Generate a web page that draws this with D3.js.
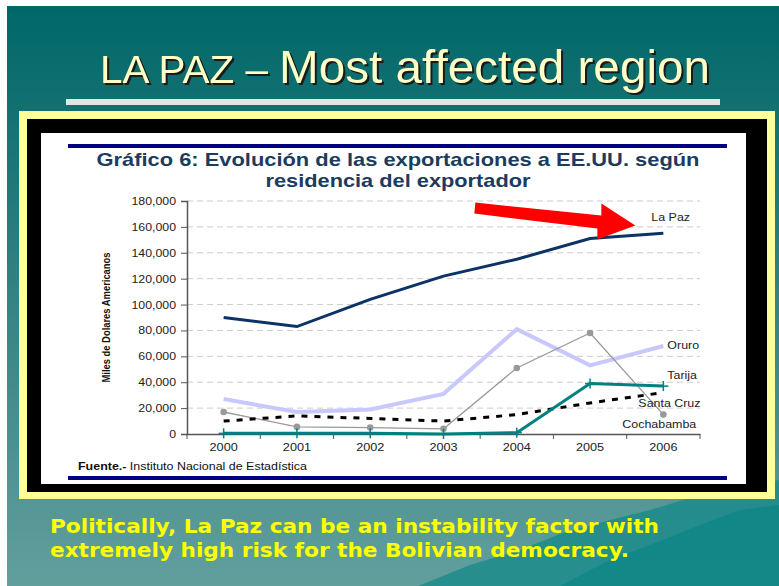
<!DOCTYPE html>
<html><head><meta charset="utf-8">
<script src="https://cdn.jsdelivr.net/npm/d3@7/dist/d3.min.js"></script>
<style>html,body{margin:0;padding:0;background:#fff;}svg{display:block;}</style>
</head><body>
<svg id="c" width="779" height="586"></svg>
<script>
const years = ["2000","2001","2002","2003","2004","2005","2006"];
const laPaz = [90000, 83000, 104000, 122000, 135000, 151000, 155000];
const oruro = [27000, 17000, 19000, 31000, 81000, 53000, 68000];
const cochabamba = [17000, 5500, 5000, 4000, 51000, 78000, 15000];
const santaCruz = [10000, 14000, 12000, 10000, 15000, 24000, 32000];
const tarija = [500, 600, 500, 0, 1000, 39000, 37000];
const yTicks = [0,20000,40000,60000,80000,100000,120000,140000,160000,180000];
const seriesNames = ["La Paz","Oruro","Tarija","Santa Cruz","Cochabamba"];

const FONT = "Liberation Sans, Arial, sans-serif";
const svg = d3.select("#c");
function stretch(sel, k){
  sel.each(function(){ const w=this.getComputedTextLength(); d3.select(this).attr("textLength",w*k).attr("lengthAdjust","spacingAndGlyphs"); });
}
// background
const defs = svg.append("defs");
const g = defs.append("linearGradient").attr("id","bg").attr("x1",0).attr("y1",0).attr("x2",0).attr("y2",1);
g.append("stop").attr("offset","0%").attr("stop-color","#006768");
g.append("stop").attr("offset","55%").attr("stop-color","#3a8585");
g.append("stop").attr("offset","100%").attr("stop-color","#619f9d");
svg.append("rect").attr("x",7).attr("y",6).attr("width",772).attr("height",580).attr("fill","url(#bg)");
// mountain decoration bottom right
svg.append("path").attr("d","M418,586 L470,565 L520,550 L560,534 L610,520 L650,510 L690,498 L779,480 L779,586 Z").attr("fill","#108888").attr("opacity",0.7);
svg.append("path").attr("d","M560,586 L610,560 L650,545 L700,525 L740,510 L779,505 L779,586 Z").attr("fill","#058383").attr("opacity",0.6);

// slide title
const shadow = "drop-shadow(2px 2px 0px #1a1a1a)";
svg.append("text").attr("x",100).attr("y",83).attr("font-family",FONT).attr("fill","#ffffc8").attr("font-size",38)
  .attr("textLength",168).attr("lengthAdjust","spacingAndGlyphs").style("filter",shadow).text("LA PAZ –");
svg.append("text").attr("x",279).attr("y",83).attr("font-family",FONT).attr("fill","#ffffc8").attr("font-size",47)
  .attr("textLength",431).attr("lengthAdjust","spacingAndGlyphs").style("filter",shadow).text("Most affected region");
svg.append("rect").attr("x",66).attr("y",99).attr("width",654).attr("height",6).attr("fill","#e4e4e4");

// frame
svg.append("rect").attr("x",19).attr("y",111).attr("width",756).attr("height",388).attr("fill","#ffff99");
svg.append("rect").attr("x",27).attr("y",119).attr("width",740).attr("height",373).attr("fill","#000");
svg.append("rect").attr("x",41).attr("y",133).attr("width",705).attr("height",351).attr("fill","#fff");

// chart header/footer rules
svg.append("rect").attr("x",68).attr("y",144).attr("width",659).attr("height",4).attr("fill","#000080");
svg.append("rect").attr("x",68).attr("y",476).attr("width",659).attr("height",4).attr("fill","#000080");

const ctg = svg.append("g").attr("font-family",FONT).attr("font-weight","bold").attr("font-size",19).attr("fill","#1d3b5e").attr("text-anchor","middle");
ctg.append("text").attr("x",398).attr("y",166).attr("textLength",603).attr("lengthAdjust","spacingAndGlyphs")
  .text("Gráfico 6: Evolución de las exportaciones a EE.UU. según");
ctg.append("text").attr("x",398).attr("y",187).attr("textLength",265).attr("lengthAdjust","spacingAndGlyphs")
  .text("residencia del exportador");

// scales
const x = d3.scaleBand().domain(years).range([187,700]);
const xc = d => x(d) + x.bandwidth()/2;
const y = d3.scaleLinear().domain([0,180000]).range([434,201]);

// grid
svg.append("g").selectAll("line").data(yTicks.filter(v=>v>0)).join("line")
  .attr("x1",187).attr("x2",700).attr("y1",d=>y(d)).attr("y2",d=>y(d))
  .attr("stroke","#cccccc").attr("stroke-dasharray","6,4");

// y axis
const ya = svg.append("g").attr("transform","translate(187,0)")
  .call(d3.axisLeft(y).tickValues(yTicks).tickFormat(d3.format(",")).tickSize(6).tickPadding(5));
ya.select(".domain").attr("stroke","#555").attr("stroke-width",1.5);
ya.selectAll(".tick line").attr("stroke","#555");
ya.selectAll("text").attr("font-family",FONT).attr("font-size",11).attr("fill","#222");
stretch(ya.selectAll("text"),1.12);

// x axis
const xa = svg.append("g").attr("transform","translate(0,434)")
  .call(d3.axisBottom(x).tickSize(0).tickPadding(9));
xa.select(".domain").attr("stroke","#555").attr("stroke-width",1.5);
xa.selectAll("text").attr("font-family",FONT).attr("font-size",11).attr("fill","#222");
stretch(xa.selectAll("text"),1.15);
xa.selectAll(".bound").data(years.map(d=>x(d)).concat([x.range()[1]])).join("line")
  .attr("x1",d=>d).attr("x2",d=>d).attr("y1",0).attr("y2",5).attr("stroke","#555");

// axis title
svg.append("text").attr("transform",`translate(110,${(y(0)+y(180000))/2}) rotate(-90)`).attr("text-anchor","middle")
  .attr("font-family",FONT).attr("font-weight","bold").attr("font-size",10)
  .attr("textLength",130).attr("lengthAdjust","spacingAndGlyphs").attr("fill","#111").text("Miles de Dolares Americanos");

const line = d3.line().x((d,i)=>xc(years[i])).y(d=>y(d));
// Oruro
svg.append("path").attr("d",line(oruro)).attr("fill","none").attr("stroke","#c8c8ff").attr("stroke-width",4);
// Cochabamba
svg.append("path").attr("d",line(cochabamba)).attr("fill","none").attr("stroke","#999").attr("stroke-width",1.3);
svg.append("g").selectAll("circle").data(cochabamba).join("circle")
  .attr("cx",(d,i)=>xc(years[i])).attr("cy",d=>y(d)).attr("r",3.3).attr("fill","#999");
// Santa Cruz
svg.append("path").attr("d",line(santaCruz)).attr("fill","none").attr("stroke","#000").attr("stroke-width",3).attr("stroke-dasharray","6,7");
// Tarija
svg.append("path").attr("d",line(tarija)).attr("fill","none").attr("stroke","#008080").attr("stroke-width",3);
const tm = svg.append("g").selectAll("g").data(tarija).join("g")
  .attr("transform",(d,i)=>`translate(${xc(years[i])},${y(d)})`);
tm.append("line").attr("x1",0).attr("x2",0).attr("y1",-5).attr("y2",5).attr("stroke","#008080").attr("stroke-width",1.5);
tm.append("line").attr("x1",-5).attr("x2",5).attr("y1",0).attr("y2",0).attr("stroke","#008080").attr("stroke-width",1.5);
// La Paz
svg.append("path").attr("d",line(laPaz)).attr("fill","none").attr("stroke","#0b3366").attr("stroke-width",3);

// series labels
const last = years.length-1;
const labelSpec = [
  {name:seriesNames[0], v:laPaz[last], dx:-12, dy:-16},
  {name:seriesNames[1], v:oruro[last], dx:4, dy:-1},
  {name:seriesNames[2], v:tarija[last], dx:4, dy:-11},
  {name:seriesNames[3], v:santaCruz[last], dx:-25, dy:10},
  {name:seriesNames[4], v:cochabamba[last], dx:-41, dy:9}
];
const lbl = svg.append("g").selectAll("text").data(labelSpec).join("text")
  .attr("x",d=>xc(years[last])+d.dx).attr("y",d=>y(d.v)+d.dy).attr("dy","0.35em")
  .attr("font-family",FONT).attr("font-size",11.5).attr("fill","#222").text(d=>d.name);
stretch(lbl,1.08);

// red arrow annotation pointing at La Paz label
const tipX = xc(years[last]) - 28, tipY = y(161000);
const arrow = [[0,0],[-34,-22],[-34,-10],[-160,-23],[-161,-12],[-38,3],[-38,14]];
svg.append("polygon").attr("points",arrow.map(p=>[tipX+p[0],tipY+p[1]].join(",")).join(" ")).attr("fill","#ff0000");

// source
const src = svg.append("text").attr("x",78).attr("y",470).attr("font-family",FONT).attr("font-size",11).attr("fill","#111")
  .attr("textLength",229).attr("lengthAdjust","spacingAndGlyphs");
src.append("tspan").attr("font-weight","bold").text("Fuente.-");
src.append("tspan").text(" Instituto Nacional de Estadística");

// bottom statement
const bt = svg.append("g").attr("font-family","DejaVu Sans, Verdana, sans-serif").attr("font-weight","bold").attr("font-size",19).attr("fill","#ffff00");
bt.append("text").attr("x",50).attr("y",533).attr("textLength",609).attr("lengthAdjust","spacingAndGlyphs").text("Politically, La Paz can be an instability factor with");
bt.append("text").attr("x",50).attr("y",557).attr("textLength",579).attr("lengthAdjust","spacingAndGlyphs").text("extremely high risk for the Bolivian democracy.");
</script>
</body></html>
